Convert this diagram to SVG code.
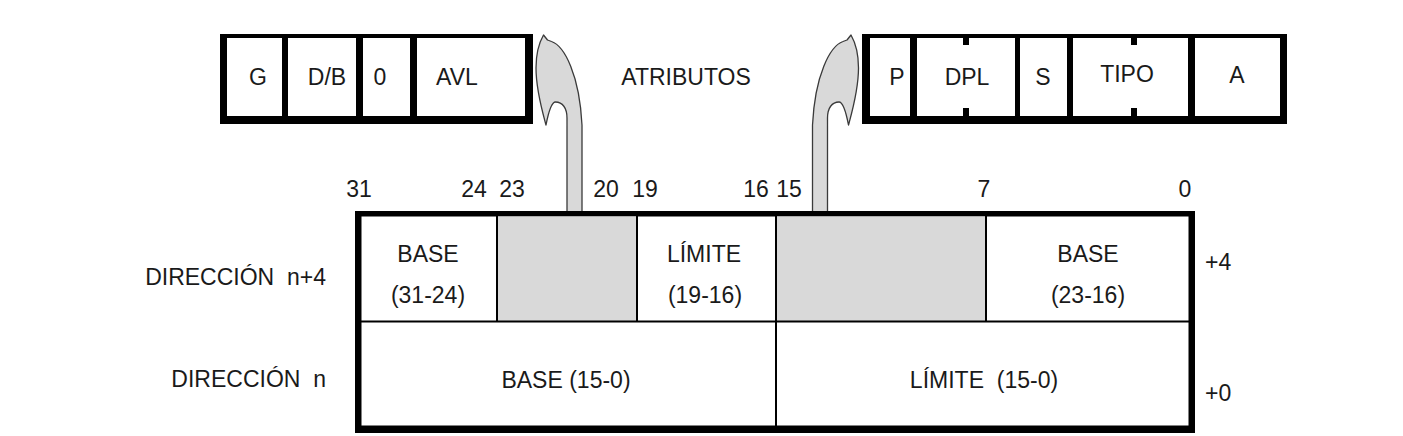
<svg xmlns="http://www.w3.org/2000/svg" width="1403" height="436" viewBox="0 0 1403 436">
<style>
text{font-family:"Liberation Sans",Arial,sans-serif;font-size:23px;fill:#1a1a1a;white-space:pre}
.m{text-anchor:middle}
.e{text-anchor:end}
.frame{fill:#000}
.cell{fill:#fff}
.gray{fill:#d9d9d9}
.div{stroke:#000;stroke-width:2;fill:none}
.arrow{fill:#d9d9d9;stroke:#3a3a3a;stroke-width:1.3;stroke-linejoin:round}
</style>
<defs>
<path id="hook" d="M -7.5 213 L -7.5 118 C -7.5 108 -12 102 -19 102 C -23 102 -26 112 -28.5 125 C -32 112 -38.5 90 -38.5 68 C -38.5 55 -35 42 -31 35 L -27 40 L -23 41.5 C -10 46 5 75 7.5 125 L 7.5 213 Z"/>
</defs>
<rect width="1403" height="436" fill="#fff"/>

<g id="connectors">
<use href="#hook" class="arrow" transform="translate(574.5,0)"/>
<use href="#hook" class="arrow" transform="translate(820,0) scale(-1,1)"/>
</g>

<g id="attr-left">
<rect class="frame" x="220" y="34" width="313" height="90"/>
<rect class="cell" x="227" y="38" width="55" height="78"/>
<rect class="cell" x="288" y="38" width="68" height="78"/>
<rect class="cell" x="363" y="38" width="47" height="78"/>
<rect class="cell" x="417" y="38" width="108" height="78"/>
<text class="m" x="258" y="85">G</text>
<text class="m" x="327" y="85">D/B</text>
<text class="m" x="380" y="85">0</text>
<text class="m" x="457" y="85">AVL</text>
</g>

<g id="atributos">
<text class="m" x="686" y="85">ATRIBUTOS</text>
</g>

<g id="attr-right">
<rect class="frame" x="862" y="34" width="425" height="90"/>
<rect class="cell" x="870" y="38" width="40" height="78"/>
<rect class="cell" x="917" y="38" width="98" height="78"/>
<rect class="cell" x="1020" y="38" width="47" height="78"/>
<rect class="cell" x="1073" y="38" width="115" height="78"/>
<rect class="cell" x="1195" y="38" width="85" height="78"/>
<rect class="frame" x="963" y="38" width="6" height="7"/>
<rect class="frame" x="963" y="108" width="6" height="8"/>
<rect class="frame" x="1131" y="38" width="6" height="7"/>
<rect class="frame" x="1131" y="108" width="6" height="8"/>
<text class="m" x="897" y="85">P</text>
<text class="m" x="967" y="85">DPL</text>
<text class="m" x="1043" y="85">S</text>
<text class="m" x="1127" y="82">TIPO</text>
<text class="m" x="1237" y="83">A</text>
</g>

<g id="bit-numbers">
<text class="m" x="359" y="197">31</text>
<text class="m" x="474" y="197">24</text>
<text class="m" x="512" y="197">23</text>
<text class="m" x="606" y="197">20</text>
<text class="m" x="645" y="197">19</text>
<text class="m" x="756" y="197">16</text>
<text class="m" x="789" y="197">15</text>
<text class="m" x="984" y="197">7</text>
<text class="m" x="1185" y="197">0</text>
</g>

<g id="descriptor">
<rect class="frame" x="355" y="211" width="840" height="222"/>
<rect class="cell" x="361.5" y="216.5" width="827" height="209"/>
<rect class="gray" x="497" y="216.5" width="140" height="105"/>
<rect class="gray" x="776" y="216.5" width="210" height="105"/>
<path class="div" d="M361 321.5 H1189 M497 216 V322 M637 216 V322 M776 216 V426 M986 216 V322"/>
<text class="m" x="428" y="262">BASE</text>
<text class="m" x="428" y="303">(31-24)</text>
<text class="m" x="704" y="262">LÍMITE</text>
<text class="m" x="705" y="303">(19-16)</text>
<text class="m" x="1088" y="262">BASE</text>
<text class="m" x="1088" y="303">(23-16)</text>
<text class="m" x="566" y="388">BASE (15-0)</text>
<text class="m" x="984" y="388">LÍMITE  (15-0)</text>
</g>

<g id="row-labels">
<text class="e" x="326" y="285">DIRECCIÓN  n+4</text>
<text class="e" x="326" y="387">DIRECCIÓN  n</text>
<text x="1205" y="270">+4</text>
<text x="1205" y="401">+0</text>
</g>
</svg>
